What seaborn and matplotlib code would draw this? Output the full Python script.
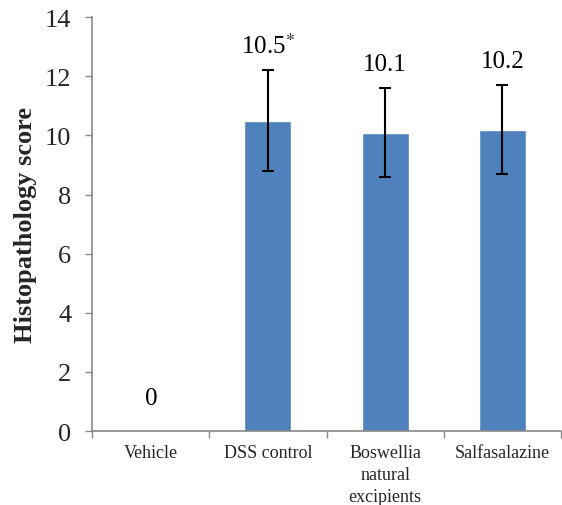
import matplotlib
matplotlib.use("Agg")
import matplotlib.pyplot as plt
import seaborn as sns
import pandas as pd

categories = ["Vehicle", "DSS control", "Boswellia\nnatural\nexcipients", "Salfasalazine"]
scores = [0, 10.5, 10.1, 10.2]
errors = [0, 1.7, 1.5, 1.5]
value_labels = ["0", "10.5$^{*}$", "10.1", "10.2"]
y_ticks = [0, 2, 4, 6, 8, 10, 12, 14]

sns.set_theme(style="white")
plt.rcParams["font.family"] = ["Liberation Serif", "DejaVu Serif"]
plt.rcParams["mathtext.fontset"] = "stix"

df = pd.DataFrame({"category": categories, "score": scores})

fig = plt.figure(figsize=(5.62, 5.06), dpi=100)
ax = fig.add_axes([0.164, 0.146, 0.834, 0.818])

sns.barplot(data=df, x="category", y="score", color="#4F81BD", saturation=1,
            width=0.4, errorbar=None, ax=ax)
xs = list(range(len(categories)))
ax.errorbar(xs[1:], scores[1:], yerr=errors[1:], fmt="none", ecolor="black",
            elinewidth=1.5, capsize=4, capthick=1.5)

for x, v, e, lab in zip(xs, scores, errors, value_labels):
    top = v + e
    ax.text(x, top + 0.6 if v > 0 else 0.91, lab, ha="center", va="baseline",
            fontsize=18, color="black")

ax.set_ylim(0, 14)
ax.set_xlim(-0.5, 3.5)
ax.set_yticks(y_ticks)
ax.set_yticklabels([str(t) for t in y_ticks], fontsize=19)
ax.set_xticks([-0.5, 0.5, 1.5, 2.5, 3.5], minor=False)
ax.set_xticklabels([])
ax.set_xticks(xs, minor=True)
ax.set_xticklabels(categories, minor=True, fontsize=13, linespacing=1.4)
ax.tick_params(axis="x", which="minor", bottom=False, length=0, pad=9)
ax.tick_params(axis="x", which="major", bottom=True, direction="out", length=5,
               color="#888888", width=1)
ax.tick_params(axis="y", left=True, direction="out", length=5, color="#888888",
               width=1, pad=10)
ax.set_xlabel("")
ax.set_ylabel("Histopathology score", fontsize=19, fontweight="bold", labelpad=6)

for side in ["top", "right"]:
    ax.spines[side].set_visible(False)
for side in ["left", "bottom"]:
    ax.spines[side].set_color("#888888")
    ax.spines[side].set_linewidth(1.2)

fig.savefig("out.png", dpi=100)
